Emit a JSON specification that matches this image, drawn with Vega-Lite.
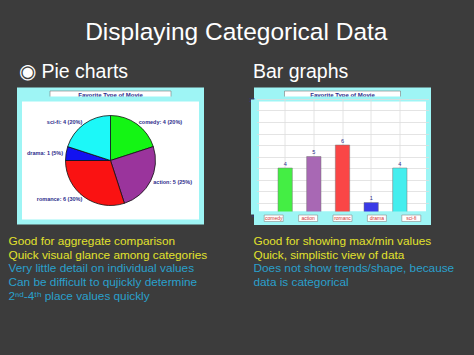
{
  "$schema": "https://vega.github.io/schema/vega-lite/v6.json",
  "background": "#3c3c3c",
  "padding": {"left": 5.5, "top": 20, "right": 40, "bottom": 70},
  "spacing": 35,
  "config": {"view": {"stroke": null}, "font": "Liberation Sans"},
  "title": {"text": "Displaying Categorical Data", "font": "Liberation Sans", "fontSize": 24.5, "fontWeight": "normal", "color": "#ffffff", "anchor": "middle", "offset": 16, "dx": 5},
  "datasets": {
    "movies": [
      {"genre": "comedy", "label": "comedy", "count": 4, "ord": 1, "labelR": "comedy: 4  (20%)", "labelL": ""},
      {"genre": "action", "label": "action", "count": 5, "ord": 2, "labelR": "action: 5  (25%)", "labelL": ""},
      {"genre": "romance", "label": "romanc", "count": 6, "ord": 3, "labelR": "", "labelL": "romance: 6  (30%)"},
      {"genre": "drama", "label": "drama", "count": 1, "ord": 4, "labelR": "", "labelL": "drama: 1  (5%)"},
      {"genre": "sci-fi", "label": "sci-fi", "count": 4, "ord": 5, "labelR": "", "labelL": "sci-fi: 4  (20%)"}
    ]
  },
  "resolve": {"scale": {"color": "independent", "x": "independent", "y": "independent"}},
  "hconcat": [
    {
      "title": {"text": "◉ Pie charts", "font": "Liberation Sans", "fontSize": 19.5, "fontWeight": "normal", "color": "#ffffff", "anchor": "start", "dx": 13, "offset": 5},
      "bounds": "flush",
      "spacing": 0,
      "vconcat": [
        {
          "width": 182, "height": 9,
          "view": {"fill": "#9ef5f5", "stroke": "#9ef5f5", "strokeWidth": 5},
          "data": {"values": [{"t": "Favorite Type of Movie"}]},
          "layer": [
            {"mark": {"type": "point", "shape": "M-1,-0.058L1,-0.058L1,0.058L-1,0.058Z", "size": 14641, "filled": true, "fill": "#ffffff", "stroke": "#777777", "strokeWidth": 0.6, "opacity": 1}},
            {"mark": {"type": "text", "fontSize": 6, "fontWeight": "bold", "color": "#2c2c8c"}, "encoding": {"text": {"field": "t"}}}
          ]
        },
        {
          "width": 182, "height": 123,
          "title": {
            "text": ["Good for aggregate comparison", "Quick visual glance among categories"],
            "subtitle": ["Very little detail on individual values", "Can be difficult to qujickly determine", "2ⁿᵈ-4ᵗʰ place values quickly"],
            "orient": "bottom", "anchor": "start", "dx": -11, "offset": 13.5,
            "font": "Liberation Sans", "fontSize": 11.8, "fontWeight": "normal", "color": "#e2e22c", "lineHeight": 14,
            "subtitleFont": "Liberation Sans", "subtitleFontSize": 11.8, "subtitleColor": "#2aa0cc", "subtitleLineHeight": 14, "subtitlePadding": 1.5
          },
          "view": {"fill": "#ffffff", "stroke": "#9ef5f5", "strokeWidth": 5},
          "data": {"name": "movies"},
          "encoding": {
            "theta": {"field": "count", "type": "quantitative", "stack": true},
            "order": {"field": "ord", "type": "quantitative"},
            "detail": {"field": "genre", "type": "nominal"}
          },
          "layer": [
            {"mark": {"type": "arc", "outerRadius": 45, "stroke": "#111111", "strokeWidth": 0.8},
             "encoding": {"color": {"field": "genre", "type": "nominal", "scale": {"domain": ["comedy", "action", "romance", "drama", "sci-fi"], "range": ["#14f514", "#9a349c", "#fa1212", "#1212f0", "#1cf8f8"]}, "legend": null}}},
            {"mark": {"type": "text", "radius": 48, "align": "left", "baseline": "middle", "fontSize": 5.5, "fontWeight": "bold", "color": "#2c2c8c"},
             "encoding": {"text": {"field": "labelR"}}},
            {"mark": {"type": "text", "radius": 48, "align": "right", "baseline": "middle", "fontSize": 5.5, "fontWeight": "bold", "color": "#2c2c8c"},
             "encoding": {"text": {"field": "labelL"}}}
          ]
        }
      ]
    },
    {
      "title": {"text": "Bar graphs", "font": "Liberation Sans", "fontSize": 19.5, "fontWeight": "normal", "color": "#ffffff", "anchor": "start", "dx": 7, "offset": 5},
      "bounds": "flush",
      "spacing": 0,
      "vconcat": [
        {
          "width": 172, "height": 9,
          "view": {"fill": "#9ef5f5", "stroke": "#9ef5f5", "strokeWidth": 5},
          "data": {"values": [{"t": "Favorite Type of Movie"}]},
          "layer": [
            {"mark": {"type": "point", "shape": "M-1,-0.06L1,-0.06L1,0.06L-1,0.06Z", "size": 13456, "filled": true, "fill": "#ffffff", "stroke": "#777777", "strokeWidth": 0.6, "opacity": 1}},
            {"mark": {"type": "text", "fontSize": 6, "fontWeight": "bold", "color": "#2c2c8c"}, "encoding": {"text": {"field": "t"}}}
          ]
        },
        {
          "width": 172, "height": 115,
          "view": {"fill": "#ffffff", "stroke": "#9ef5f5", "strokeWidth": 5},
          "data": {"name": "movies"},
          "encoding": {
            "x": {"field": "genre", "type": "nominal", "sort": ["comedy", "action", "romance", "drama", "sci-fi"], "scale": {"paddingInner": 0.5, "paddingOuter": 0.75},
                  "axis": {"grid": true, "bandPosition": 0.5, "gridColor": "#dddddd", "gridWidth": 0.8, "labels": false, "ticks": false, "domain": false, "title": null}},
            "y": {"field": "count", "type": "quantitative", "scale": {"domain": [0, 10], "nice": false},
                  "axis": {"values": [0, 1, 2, 3, 4, 5, 6, 7, 8, 9, 10], "grid": true, "gridColor": "#dddddd", "gridWidth": 0.8, "labelExpr": "datum.value % 5 == 0 ? datum.label : ''", "ticks": false, "domain": true, "domainColor": "#9ef5f5", "domainWidth": 6, "offset": 3, "labelFontSize": 5.5, "labelColor": "#2c2c8c", "labelPadding": -1, "labelOverlap": false, "title": null}}
          },
          "layer": [
            {"mark": {"type": "bar", "stroke": "#777777", "strokeWidth": 0.5},
             "encoding": {"color": {"field": "genre", "type": "nominal", "scale": {"domain": ["comedy", "action", "romance", "drama", "sci-fi"], "range": ["#44ee44", "#a868b4", "#fa4646", "#3a3ae6", "#44eeee"]}, "legend": null}}},
            {"mark": {"type": "text", "baseline": "bottom", "dy": -1.5, "fontSize": 5.5, "color": "#2c2c8c"},
             "encoding": {"text": {"field": "count"}}}
          ]
        },
        {
          "width": 172, "height": 8.5,
          "title": {
            "text": ["Good for showing max/min values", "Quick, simplistic view of data"],
            "subtitle": ["Does not show trends/shape, because", "data is categorical"],
            "orient": "bottom", "anchor": "start", "dx": -3, "offset": 13,
            "font": "Liberation Sans", "fontSize": 11.8, "fontWeight": "normal", "color": "#e2e22c", "lineHeight": 14,
            "subtitleFont": "Liberation Sans", "subtitleFontSize": 11.8, "subtitleColor": "#2aa0cc", "subtitleLineHeight": 14, "subtitlePadding": 1.5
          },
          "view": {"fill": "#9ef5f5", "stroke": "#9ef5f5", "strokeWidth": 5},
          "data": {"name": "movies"},
          "encoding": {"x": {"field": "genre", "type": "nominal", "sort": ["comedy", "action", "romance", "drama", "sci-fi"], "scale": {"paddingInner": 0.5, "paddingOuter": 0.75}, "axis": null}},
          "layer": [
            {"mark": {"type": "point", "shape": "M-1,-0.34L1,-0.34L1,0.34L-1,0.34Z", "size": 361, "filled": true, "fill": "#ffffff", "stroke": "#888888", "strokeWidth": 0.6, "opacity": 1}},
            {"mark": {"type": "text", "fontSize": 5, "color": "#d03030"}, "encoding": {"text": {"field": "label"}}}
          ]
        }
      ]
    }
  ]
}
